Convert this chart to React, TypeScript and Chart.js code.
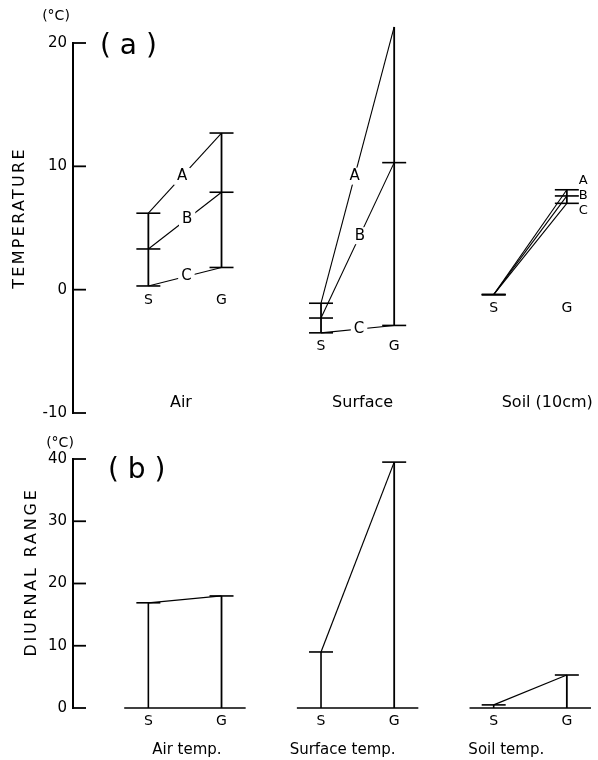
import React, { useEffect, useRef } from 'react';
import { Chart, registerables } from 'chart.js';
Chart.register(...registerables);

// ---------- data ----------
const groupsA = ['Air', 'Surface', 'Soil (10cm)'];
const groupsB = ['Air temp.', 'Surface temp.', 'Soil temp.'];
const stations = ['S', 'G'];
const seriesNames = ['A', 'B', 'C'];
// panel (a): temperature (°C) per group [Air, Surface, Soil]
const tempA_S = [6.2, -1.1, -0.4];
const tempA_G = [12.7, 21.3, 8.1];
const tempB_S = [3.3, -2.3, -0.4];
const tempB_G = [7.9, 10.3, 7.6];
const tempC_S = [0.3, -3.5, -0.4];
const tempC_G = [1.8, -2.9, 7.0];
// panel (b): diurnal range (°C)
const rangeS = [16.9, 9.0, 0.5];
const rangeG = [18.0, 39.5, 5.3];
const tempTicks = [-10, 0, 10, 20];
const rangeTicks = [0, 10, 20, 30, 40];

// ---------- layout constants ----------
const GROUP_STEP = 2.36;
const X_MIN = -1.03;
const X_MAX = 5.96;
const FONT = '"DejaVu Sans", sans-serif';
const labelFrac = [0.46, 0.53, 0.52];
const catShiftA = [-4, 5, 17];
const catShiftB = [2, -15, -24];

const xS = (g: number) => g * GROUP_STEP;
const xG = (g: number) => g * GROUP_STEP + 1;

function lineDs(data: any[], w: number) {
  return { data, showLine: true, borderColor: '#000', borderWidth: w, pointRadius: 0, fill: false, tension: 0, clip: false };
}
function tickDs(data: any[]) {
  return {
    data, showLine: false, pointStyle: 'line', pointRadius: 12, pointHoverRadius: 12,
    pointBorderColor: '#000', pointBorderWidth: 1.6, borderColor: '#000', clip: false,
  };
}

function yAxis(min: number, max: number, ticks: number[]) {
  return {
    type: 'linear', position: 'left', min, max,
    afterFit: (s: any) => { s.width = 73; },
    afterBuildTicks: (s: any) => { s.ticks = ticks.map((v) => ({ value: v })); },
    grid: { display: false, drawTicks: false },
    border: { display: true, color: '#000', width: 2 },
    ticks: { color: '#000', padding: 6, font: { family: FONT, size: 15 } },
  };
}
const xAxis = { type: 'linear', min: X_MIN, max: X_MAX, display: false };

function tickMarks(chart: any) {
  const y = chart.scales.y; const ctx = chart.ctx;
  ctx.save(); ctx.strokeStyle = '#000'; ctx.lineWidth = 1.8;
  y.ticks.forEach((t: any) => {
    const py = y.getPixelForValue(t.value);
    ctx.beginPath(); ctx.moveTo(y.right - 1, py); ctx.lineTo(y.right + 13, py); ctx.stroke();
  });
  ctx.restore();
}

function text(ctx: any, s: string, x: number, y: number, size: number, align = 'center', bg = false) {
  ctx.font = `${size}px ${FONT}`;
  ctx.textAlign = align; ctx.textBaseline = 'middle';
  if (bg) {
    const w = ctx.measureText(s).width;
    ctx.fillStyle = '#fff';
    ctx.fillRect(x - w / 2 - 3, y - size / 2 - 1, w + 6, size + 2);
  }
  ctx.fillStyle = '#000';
  ctx.fillText(s, x, y);
}
function vtext(ctx: any, s: string, x: number, y: number, size: number, spacing: string) {
  ctx.save();
  ctx.translate(x, y); ctx.rotate(-Math.PI / 2);
  ctx.font = `${size}px ${FONT}`;
  (ctx as any).letterSpacing = spacing;
  ctx.textAlign = 'center'; ctx.textBaseline = 'middle'; ctx.fillStyle = '#000';
  ctx.fillText(s, 0, 0);
  ctx.restore();
}

const seriesS = [tempA_S, tempB_S, tempC_S];
const seriesG = [tempA_G, tempB_G, tempC_G];

function topConfig(): any {
  const datasets: any[] = [];
  groupsA.forEach((_, g) => {
    seriesNames.forEach((_n, i) => datasets.push(lineDs([{ x: xS(g), y: seriesS[i][g] }, { x: xG(g), y: seriesG[i][g] }], 1.1)));
    const sv = seriesS.map((a) => a[g]); const gv = seriesG.map((a) => a[g]);
    datasets.push(lineDs([{ x: xS(g), y: Math.min(...sv) }, { x: xS(g), y: Math.max(...sv) }], 1.8));
    datasets.push(lineDs([{ x: xG(g), y: Math.min(...gv) }, { x: xG(g), y: Math.max(...gv) }], 1.8));
    datasets.push(tickDs([...sv.map((v) => ({ x: xS(g), y: v })), ...gv.map((v) => ({ x: xG(g), y: v }))]));
  });
  const labels = {
    id: 'labelsA',
    afterDatasetsDraw(chart: any) {
      const ctx = chart.ctx; const x = chart.scales.x; const y = chart.scales.y;
      ctx.save();
      groupsA.forEach((name, g) => {
        const ps = x.getPixelForValue(xS(g)); const pg = x.getPixelForValue(xG(g));
        seriesNames.forEach((n, i) => {
          const ys = y.getPixelForValue(seriesS[i][g]); const yg = y.getPixelForValue(seriesG[i][g]);
          if (g < 2) {
            const f = labelFrac[i];
            text(ctx, n, ps + (pg - ps) * f, ys + (yg - ys) * f, 15, 'center', true);
          } else {
            const yb = y.getPixelForValue(seriesG[1][g]);
            text(ctx, n, pg + 12, yb + (i - 1) * 15, 13, 'left');
          }
        });
        const low = Math.min(...seriesS.map((a) => a[g]), ...seriesG.map((a) => a[g]));
        const ly = y.getPixelForValue(low) + 14;
        text(ctx, stations[0], ps, ly, 14);
        text(ctx, stations[1], pg, ly, 14);
        text(ctx, name, (ps + pg) / 2 + catShiftA[g], 403, 16);
      });
      text(ctx, '(°C)', 56, 16, 14);
      text(ctx, '( a )', 100, 47, 28, 'left');
      vtext(ctx, 'TEMPERATURE', 20, 218, 16, '2.3px');
      ctx.restore();
      tickMarks(chart);
    },
  };
  return {
    type: 'scatter',
    data: { datasets },
    options: {
      responsive: false, animation: false,
      layout: { padding: { top: 43, bottom: 17, left: 0, right: 0 } },
      scales: { x: xAxis, y: yAxis(-10, 20, tempTicks) },
      plugins: { legend: { display: false }, tooltip: { enabled: false } },
      events: [],
    },
    plugins: [labels],
  };
}

function bottomConfig(): any {
  const datasets: any[] = [];
  groupsB.forEach((_, g) => {
    datasets.push(lineDs([{ x: xS(g) - 0.33, y: 0 }, { x: xG(g) + 0.33, y: 0 }], 1.6));
    datasets.push(lineDs([{ x: xS(g), y: 0 }, { x: xS(g), y: rangeS[g] }], 1.6));
    datasets.push(lineDs([{ x: xG(g), y: 0 }, { x: xG(g), y: rangeG[g] }], 1.8));
    datasets.push(lineDs([{ x: xS(g), y: rangeS[g] }, { x: xG(g), y: rangeG[g] }], 1.2));
    datasets.push(tickDs([{ x: xS(g), y: rangeS[g] }, { x: xG(g), y: rangeG[g] }]));
  });
  const labels = {
    id: 'labelsB',
    afterDatasetsDraw(chart: any) {
      const ctx = chart.ctx; const x = chart.scales.x; const y = chart.scales.y;
      ctx.save();
      const base = y.getPixelForValue(0);
      groupsB.forEach((name, g) => {
        const ps = x.getPixelForValue(xS(g)); const pg = x.getPixelForValue(xG(g));
        text(ctx, stations[0], ps, base + 13, 14);
        text(ctx, stations[1], pg, base + 13, 14);
        text(ctx, name, (ps + pg) / 2 + catShiftB[g], base + 42, 15);
      });
      text(ctx, '(°C)', 60, 13, 14);
      text(ctx, '( b )', 108, 41, 28, 'left');
      vtext(ctx, 'DIURNAL RANGE', 32, 142, 16, '2.8px');
      ctx.restore();
      tickMarks(chart);
    },
  };
  return {
    type: 'scatter',
    data: { datasets },
    options: {
      responsive: false, animation: false,
      layout: { padding: { top: 29, bottom: 52, left: 0, right: 0 } },
      scales: { x: xAxis, y: yAxis(0, 40, rangeTicks) },
      plugins: { legend: { display: false }, tooltip: { enabled: false } },
      events: [],
    },
    plugins: [labels],
  };
}

export default function App() {
  const topRef = useRef<HTMLCanvasElement>(null);
  const botRef = useRef<HTMLCanvasElement>(null);
  useEffect(() => {
    const c1 = new Chart(topRef.current as HTMLCanvasElement, topConfig());
    const c2 = new Chart(botRef.current as HTMLCanvasElement, bottomConfig());
    return () => { c1.destroy(); c2.destroy(); };
  }, []);
  return (
    <div style={{ position: 'absolute', left: 0, top: 0, width: 598, height: 760, background: '#fff' }}>
      <canvas ref={topRef} width={598} height={430} style={{ position: 'absolute', left: 0, top: 0, width: 598, height: 430 }} />
      <canvas ref={botRef} width={598} height={330} style={{ position: 'absolute', left: 0, top: 430, width: 598, height: 330 }} />
    </div>
  );
}
